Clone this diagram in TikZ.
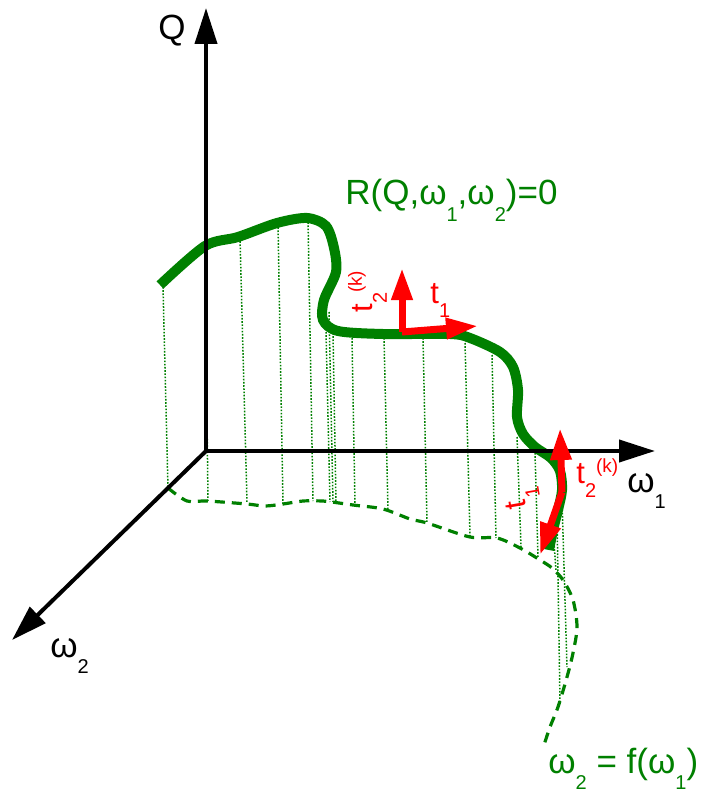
\documentclass[tikz,border=0pt]{standalone}
\usepackage{fontspec}
\setmainfont{Liberation Sans}
\usetikzlibrary{arrows.meta}
\definecolor{curvegreen}{RGB}{0,128,0}
% lowered / raised small indices as in the drawing
\newcommand{\lowidx}[1]{\raisebox{-0.48em}{\fontsize{10}{11}\selectfont #1}}
\newcommand{\upidx}[1]{\raisebox{0.33em}{\fontsize{9.5}{11}\selectfont #1}}

\begin{document}
\begin{tikzpicture}[x=0.5pt, y=-0.5pt,
    axis/.style={line width=2pt, -{Triangle[length=18pt,width=11pt]}},
    tvec/.style={red, line width=3.5pt, -{Triangle[length=16pt,width=10pt]}},
    drop/.style={curvegreen, line width=0.75pt, dash pattern=on 0.8pt off 0.8pt},
    lbl/.style={font=\fontsize{17.5}{20}\selectfont, inner sep=0pt},
    tlbl/.style={red, font=\fontsize{15.5}{18}\selectfont, inner sep=0pt}]
  \useasboundingbox (0,0) rectangle (713,796);

  % vertical drops from the curve to its projection
  \foreach \xa/\ya/\xb/\yb in {163/287/168/488, 205/250/208/501, 240/238/247/503,
      278/224/283/504, 308/219/313/501, 326/332/330/502, 329/312/333/502,
      333/333/336/503, 352/338/355/505, 384/338/388/510, 423/338/427/523,
      465/343/470/536, 492/355/496/538, 517/437/521/547, 535/453/538/557,
      553/530/556/570, 557/515/560/703, 562/500/567/667}
    \draw[drop] (\xa,\ya) -- (\xb,\yb);

  % projection w2 = f(w1)
  \draw[curvegreen, line width=1.6pt, dash pattern=on 5pt off 3.5pt]
    plot[smooth, tension=0.5] coordinates {(168,488) (187,501) (207,501) (247,504)
      (265,506) (283,504) (303,501) (323,501) (332,502) (353,505) (383,509)
      (410,519) (427,523) (470,537) (497,538) (520,548) (540,560) (552,568)
      (563,580) (573,600) (577,627) (573,653) (567,677) (558,707) (550,727) (543,748)};

  % the curve R = 0
  \draw[curvegreen, line width=5pt]
    plot[smooth, tension=0.5] coordinates {(160,285) (205,246) (238,237) (277,223)
      (307,218) (326,226) (334,248) (336,272) (324,300) (323,320) (338,331)
      (383,334) (450,334) (470,338) (500,352) (513,367) (518,390) (517,417)
      (523,434) (535,447) (551,458) (560,471) (562,490) (558,510) (553,530) (549,550)};

  % axes
  \coordinate (O) at (206,451);
  \coordinate (qtip) at (206,8);
  \coordinate (w1tip) at (655,451);
  \coordinate (w2tip) at (12,640);
  \draw[axis] (O) -- (qtip);
  \draw[axis] (O) -- (w1tip);
  \draw[axis] (O) -- (w2tip);

  % tangent vectors
  \coordinate (ta) at (402,332);
  \coordinate (ta2) at (402,268);
  \coordinate (ta1) at (478,326);
  \draw[tvec] (ta) -- (ta2);
  \draw[tvec] (ta) -- (ta1);
  \coordinate (tb) at (562,492);
  \coordinate (tb2) at (560,428);
  \coordinate (tb1) at (540,555);
  \draw[tvec] (tb) -- (tb2);
  \draw[tvec] (tb) -- (tb1);

  % labels
  \node[lbl, anchor=base west] (lQ) at (158,40) {Q};
  \node[lbl, anchor=base west] (lw1) at (627,492) {ω\lowidx{1}};
  \node[lbl, anchor=base west] (lw2) at (50,657) {ω\lowidx{2}};
  \node[lbl, curvegreen, anchor=base west] (lR) at (345,205) {R(Q,ω\lowidx{1},ω\lowidx{2})=0};
  \node[lbl, curvegreen, anchor=base west] (lf) at (548,773) {ω\lowidx{2} = f(ω\lowidx{1})};
  \node[tlbl, anchor=base west] (lta1) at (430,303) {t\lowidx{1}};
  \node[tlbl, anchor=base west, rotate=90] (lta2) at (372,313) {t\lowidx{2}\upidx{(k)}};
  \node[tlbl, anchor=base west] (ltb2) at (576,483) {t\lowidx{2}\upidx{(k)}};
  \node[tlbl, anchor=base west, rotate=100] (ltb1) at (527,508) {t\lowidx{1}};
\end{tikzpicture}
\end{document}
